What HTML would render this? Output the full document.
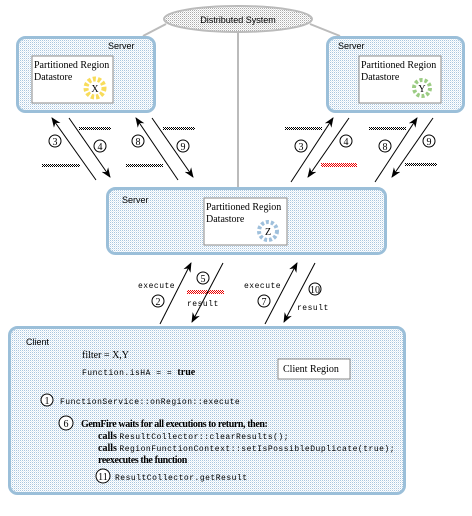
<!DOCTYPE html>
<html><head><meta charset="utf-8"><style>
html,body{margin:0;padding:0;background:#fff;width:472px;height:516px;overflow:hidden}
svg{display:block}
.sf{font-family:"Liberation Serif",serif;font-size:10px;fill:#000}
.ss{font-family:"Liberation Sans",sans-serif;font-size:9px;fill:#000}
.mo{font-family:"Liberation Mono",monospace;font-size:8px;fill:#000;letter-spacing:0.5px}
.cn{font-family:"Liberation Serif",serif;font-size:10px;fill:#000;text-anchor:middle}
</style></head><body>
<svg width="472" height="516" viewBox="0 0 472 516" xmlns="http://www.w3.org/2000/svg">
<defs>
<pattern id="dot" width="2" height="2" patternUnits="userSpaceOnUse"><rect width="2" height="2" fill="#fff"/><rect width="1" height="1" fill="#a9c6df"/><rect x="1" y="1" width="1" height="1" fill="#e2ecf5"/></pattern>
<pattern id="gdot" width="2" height="2" patternUnits="userSpaceOnUse"><rect width="2" height="2" fill="#fff"/><rect width="1" height="1" fill="#aaa"/><rect x="1" y="1" width="1" height="1" fill="#ddd"/></pattern>
<pattern id="hat" width="2" height="2" patternUnits="userSpaceOnUse"><rect width="2" height="2" fill="#fff"/><rect width="1" height="1" fill="#000"/><rect x="1" y="1" width="1" height="1" fill="#000"/></pattern>
<pattern id="rhat" width="2" height="2" patternUnits="userSpaceOnUse"><rect width="2" height="2" fill="#fff"/><rect width="1" height="1" fill="#e00"/><rect x="1" y="1" width="1" height="1" fill="#e00"/></pattern>
<marker id="ah" markerWidth="10" markerHeight="8" refX="9" refY="4" orient="auto" markerUnits="userSpaceOnUse"><path d="M0,0 L10,4 L0,8 L3,4 Z" fill="#000"/></marker>
</defs>
<g stroke="#bbb" stroke-width="2" fill="none">
<line x1="166" y1="24" x2="143" y2="36"/><line x1="310" y1="24" x2="340" y2="36"/>
<line x1="238" y1="32" x2="238" y2="188"/>
</g>
<ellipse cx="238" cy="19" rx="74" ry="13" fill="url(#gdot)" stroke="#bbb" stroke-width="2"/>
<text x="238" y="23" class="ss" text-anchor="middle" font-size="10">Distributed System</text>

<rect x="17.5" y="37.5" width="137" height="74" rx="8" fill="url(#dot)" stroke="#9bbfd9" stroke-width="3"/>
<text x="108" y="49" class="ss">Server</text>
<rect x="32" y="56" width="81" height="47" fill="#fff" stroke="#888"/>
<text x="34" y="68" class="sf">Partitioned Region</text><text x="34" y="80" class="sf">Datastore</text>
<circle cx="95" cy="88" r="9" fill="none" stroke="#f8dc5a" stroke-width="5" stroke-dasharray="3 2"/>
<text x="95" y="92" class="cn">X</text>

<rect x="327.5" y="37.5" width="136" height="74" rx="8" fill="url(#dot)" stroke="#9bbfd9" stroke-width="3"/>
<text x="338" y="49" class="ss">Server</text>
<rect x="359" y="56" width="82" height="47" fill="#fff" stroke="#888"/>
<text x="361" y="68" class="sf">Partitioned Region</text><text x="361" y="80" class="sf">Datastore</text>
<circle cx="422" cy="88" r="8" fill="none" stroke="#9ccc84" stroke-width="4" stroke-dasharray="3 2"/>
<text x="422" y="92" class="cn">Y</text>

<rect x="107.5" y="188.5" width="278" height="65" rx="8" fill="url(#dot)" stroke="#9bbfd9" stroke-width="3"/>
<text x="122" y="203" class="ss">Server</text>
<rect x="204" y="198" width="83" height="47" fill="#fff" stroke="#888"/>
<text x="206" y="210" class="sf">Partitioned Region</text><text x="206" y="222" class="sf">Datastore</text>
<circle cx="268" cy="231" r="9" fill="none" stroke="#9fc0dc" stroke-width="4" stroke-dasharray="3 2"/>
<text x="268" y="235" class="cn">Z</text>

<g>
<rect x="79" y="127" width="32" height="3" fill="url(#hat)"/><rect x="42" y="164" width="38" height="3" fill="url(#hat)"/>
<rect x="163" y="127" width="32" height="3" fill="url(#hat)"/><rect x="126" y="164" width="37" height="3" fill="url(#hat)"/>
<rect x="285" y="127" width="37" height="3" fill="url(#hat)"/><rect x="321" y="163" width="36" height="4" fill="url(#rhat)"/>
<rect x="369" y="127" width="37" height="3" fill="url(#hat)"/><rect x="405" y="163" width="32" height="3" fill="url(#hat)"/>
<rect x="187" y="290" width="37" height="4" fill="url(#rhat)"/>
</g>
<g stroke="#000" stroke-width="1" marker-end="url(#ah)">
<line x1="96" y1="180" x2="52" y2="118"/><line x1="69" y1="118" x2="110" y2="177"/>
<line x1="178" y1="180" x2="136" y2="118"/><line x1="152" y1="118" x2="193" y2="177"/>
<line x1="291" y1="182" x2="333" y2="118"/><line x1="349" y1="118" x2="308" y2="177"/>
<line x1="375" y1="182" x2="417" y2="118"/><line x1="433" y1="118" x2="392" y2="177"/>
<line x1="160" y1="324" x2="191" y2="263"/><line x1="223" y1="263" x2="192" y2="322"/>
<line x1="265" y1="324" x2="297" y2="263"/><line x1="315" y1="263" x2="284" y2="322"/>
</g>
<g fill="#fff" stroke="#000">
<circle cx="55" cy="141" r="6"/><circle cx="100" cy="146" r="6"/><circle cx="138" cy="141" r="6"/><circle cx="183" cy="146" r="6"/>
<circle cx="301" cy="146" r="6"/><circle cx="346" cy="141" r="6"/><circle cx="385" cy="146" r="6"/><circle cx="429" cy="141" r="6"/>
<circle cx="158" cy="301" r="6"/><circle cx="203" cy="278" r="6"/><circle cx="264" cy="301" r="6"/><circle cx="315" cy="289" r="6"/>
</g>
<g class="cn">
<text x="55" y="145" class="cn">3</text><text x="100" y="150" class="cn">4</text><text x="138" y="145" class="cn">8</text><text x="183" y="150" class="cn">9</text>
<text x="301" y="150" class="cn">3</text><text x="346" y="145" class="cn">4</text><text x="385" y="150" class="cn">8</text><text x="429" y="145" class="cn">9</text>
<text x="158" y="305" class="cn">2</text><text x="203" y="282" class="cn">5</text><text x="264" y="305" class="cn">7</text><text x="315" y="293" class="cn" font-size="9">10</text>
</g>
<text x="138" y="288" class="mo">execute</text><text x="187" y="306" class="mo">result</text>
<text x="244" y="288" class="mo">execute</text><text x="297" y="310" class="mo">result</text>

<rect x="9.5" y="327.5" width="395" height="166" rx="8" fill="url(#dot)" stroke="#9bbfd9" stroke-width="3"/>
<text x="26" y="345" class="ss">Client</text>
<text x="82" y="358" class="sf">filter = X,Y</text>
<text x="82" y="375" class="mo">Function.isHA = = <tspan class="sf" font-weight="bold" letter-spacing="0">true</tspan></text>
<rect x="278" y="359" width="72" height="20" fill="#fff" stroke="#888"/>
<text x="283" y="372" class="sf">Client Region</text>
<circle cx="47" cy="400" r="6" fill="#fff" stroke="#000"/><text x="47" y="404" class="cn">1</text>
<text x="60" y="404" class="mo">FunctionService::onRegion::execute</text>
<circle cx="66" cy="423" r="7" fill="#fff" stroke="#000"/><text x="66" y="427" class="cn">6</text>
<text x="81" y="427" class="sf" font-weight="bold" letter-spacing="-0.4">GemFire waits for all executions to return, then:</text>
<text x="98" y="439" class="sf" font-weight="bold">calls <tspan class="mo" font-weight="normal">ResultCollector::clearResults();</tspan></text>
<text x="98" y="451" class="sf" font-weight="bold">calls <tspan class="mo" font-weight="normal">RegionFunctionContext::setIsPossibleDuplicate(true);</tspan></text>
<text x="98" y="463" class="sf" font-weight="bold" letter-spacing="-0.4">reexecutes the function</text>
<circle cx="103" cy="476" r="7" fill="#fff" stroke="#000"/><text x="103" y="480" class="cn" font-size="9">11</text>
<text x="115" y="480" class="mo">ResultCollector.getResult</text>
</svg>
</body></html>
